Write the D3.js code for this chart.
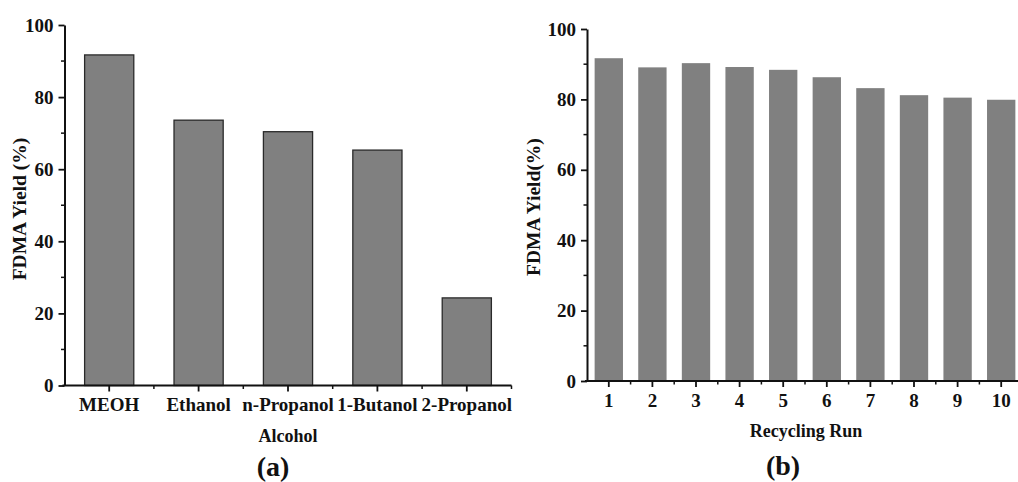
<!DOCTYPE html>
<html>
<head>
<meta charset="utf-8">
<script src="https://cdn.jsdelivr.net/npm/d3@7"></script>
<style>
  html, body { margin: 0; padding: 0; background: #fff; }
  svg { display: block; }
</style>
</head>
<body>
<svg id="chart" width="1018" height="482"></svg>
<script>
// Panel (a): FDMA yield for different alcohol solvents
const alcohols = ["MEOH", "Ethanol", "n-Propanol", "1-Butanol", "2-Propanol"];
const alcoholYield = [91.7, 73.6, 70.4, 65.3, 24.3];

// Panel (b): FDMA yield over recycling runs
const runs = ["1", "2", "3", "4", "5", "6", "7", "8", "9", "10"];
const runYield = [91.7, 89.1, 90.3, 89.2, 88.4, 86.3, 83.2, 81.2, 80.5, 79.9];

const yTicks = [0, 20, 40, 60, 80, 100];
const yMinorTicks = [10, 30, 50, 70, 90];

const FONT = "'Liberation Serif', 'Times New Roman', 'DejaVu Serif', serif";
const INK = "#111";

const svg = d3.select("#chart");

function styleText(sel, size) {
  sel.attr("font-family", FONT).attr("font-weight", "bold")
    .attr("font-size", size).attr("fill", INK);
}

function panel(cfg) {
  const g = svg.append("g");
  const x = d3.scaleBand().domain(cfg.cats).range([cfg.x0, cfg.x1])
    .paddingInner(cfg.pad).paddingOuter(cfg.pad / 2);
  const y = d3.scaleLinear().domain([0, 100]).range([cfg.y0, cfg.y1]);

  // bars
  g.append("g").selectAll("rect").data(cfg.vals).join("rect")
    .attr("x", (d, i) => x(cfg.cats[i]))
    .attr("y", d => y(d))
    .attr("width", x.bandwidth())
    .attr("height", d => y(0) - y(d))
    .attr("fill", "#808080")
    .attr("stroke", cfg.barStroke)
    .attr("stroke-width", cfg.barStroke === "none" ? 0 : 1.3);

  // minor y ticks
  g.append("g").selectAll("line").data(yMinorTicks).join("line")
    .attr("x1", cfg.x0 - 3.5).attr("x2", cfg.x0)
    .attr("y1", d => y(d)).attr("y2", d => y(d))
    .attr("stroke", INK).attr("stroke-width", 1.5);

  // minor x ticks (between categories and at the far end)
  const step = x.step();
  const minorX = cfg.cats.map(c => x(c) + x.bandwidth() / 2 + step / 2);
  g.append("g").selectAll("line").data(minorX).join("line")
    .attr("x1", d => d).attr("x2", d => d)
    .attr("y1", cfg.y0).attr("y2", cfg.y0 + 3.5)
    .attr("stroke", INK).attr("stroke-width", 1.5);

  // y axis
  const ya = g.append("g").attr("transform", `translate(${cfg.x0},0)`)
    .call(d3.axisLeft(y).tickValues(yTicks).tickSize(6).tickSizeOuter(0).tickPadding(5));
  ya.select(".domain").attr("stroke", INK).attr("stroke-width", 2);
  ya.selectAll(".tick line").attr("stroke", INK).attr("stroke-width", 1.8);
  styleText(ya.selectAll(".tick text"), 19);

  // x axis (starts just left of the y axis)
  const xa = g.append("g").attr("transform", `translate(0,${cfg.y0})`)
    .call(d3.axisBottom(x).tickSize(6).tickSizeOuter(0).tickPadding(6.5));
  xa.select(".domain").attr("stroke", INK).attr("stroke-width", 2)
    .attr("d", `M${cfg.x0 - 2},0H${cfg.x1}`);
  xa.selectAll(".tick line").attr("stroke", INK).attr("stroke-width", 1.8);
  styleText(xa.selectAll(".tick text"), 19);

  // axis titles and panel tag
  styleText(g.append("text")
    .attr("transform", `translate(${cfg.yTitleX},${cfg.yTitleY}) rotate(-90)`)
    .attr("text-anchor", "middle").attr("dominant-baseline", "middle")
    .text(cfg.yTitle), 19.5);
  styleText(g.append("text")
    .attr("x", cfg.xTitleX).attr("y", cfg.xTitleY)
    .attr("text-anchor", "middle").attr("dominant-baseline", "middle")
    .text(cfg.xTitle), 18);
  styleText(g.append("text")
    .attr("x", cfg.tagX).attr("y", cfg.tagY)
    .attr("text-anchor", "middle").attr("dominant-baseline", "middle")
    .text(cfg.tag), 28);
}

panel({
  cats: alcohols, vals: alcoholYield,
  x0: 64.5, x1: 511.5, y0: 385.5, y1: 25, pad: 0.45, barStroke: "#2a2a2a",
  yTitle: "FDMA Yield (%)", yTitleX: 22, yTitleY: 209,
  xTitle: "Alcohol", xTitleX: 288, xTitleY: 438,
  tag: "(a)", tagX: 273, tagY: 470
});

panel({
  cats: runs, vals: runYield,
  x0: 587, x1: 1023, y0: 381, y1: 29, pad: 0.35, barStroke: "none",
  yTitle: "FDMA Yield(%)", yTitleX: 536, yTitleY: 207,
  xTitle: "Recycling Run", xTitleX: 806, xTitleY: 433,
  tag: "(b)", tagX: 783, tagY: 469
});
</script>
</body>
</html>
